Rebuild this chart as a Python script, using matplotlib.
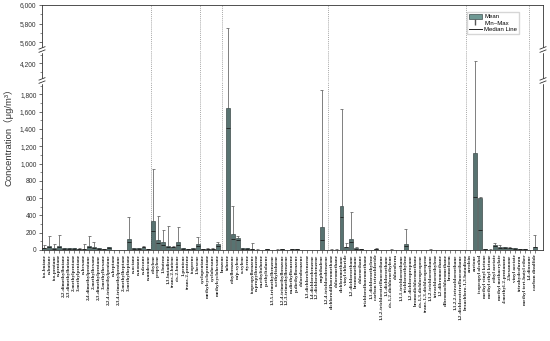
import matplotlib

matplotlib.use("Agg")

import matplotlib.pyplot as plt
from matplotlib.lines import Line2D
from matplotlib.patches import Patch, Rectangle

compounds = [
    # alkanes
    "iso-butane", "n-butane", "iso-pentane", "n-pentane", "2,2-dimethylbutane",
    "2,3-dimethylbutane", "2-methylpentane", "3-methylpentane", "n-hexane",
    "2,4-dimethylpentane", "2-methylhexane", "2,3-dimethylpentane", "3-methylhexane",
    "2,2,4-trimethylpentane", "n-heptane", "2,3,4-trimethylpentane", "2-methylheptane",
    "3-methylheptane", "n-octane", "n-nonane", "n-decane", "n-undecane",
    # alkenes
    "ethylene", "propylene", "1-butene", "1,3-butadiene", "trans-2-butene",
    "cis-2-butene", "1-pentene", "trans-2-pentene", "isoprene", "1-hexene",
    # cycloalkanes
    "cyclopentane", "methylcyclopentane", "cyclohexane", "methylcyclohexane",
    # aromatics
    "benzene", "toluene", "ethylbenzene", "m/p-xylene", "o-xylene", "styrene",
    "isopropylbenzene", "n-propylbenzene", "m-ethyltoluene", "p-ethyltoluene",
    "1,3,5-trimethylbenzene", "o-ethyltoluene", "1,2,4-trimethylbenzene",
    "1,2,3-trimethylbenzene", "m-diethylbenzene", "p-diethylbenzene", "chlorobenzene",
    "1,3-dichlorobenzene", "1,4-dichlorobenzene", "1,2-dichlorobenzene", "naphthalene",
    "1,2,4-trichlorobenzene",
    # halocarbons
    "dichlorodifluoromethane", "chloromethane", "dichloromethane", "vinyl chloride",
    "1,2-dichloroethane", "bromomethane", "chloroethane", "trichlorofluoromethane",
    "1,1-dichloroethylene", "carbon tetrachloride", "1,1,2-trichlorotrifluoroethane",
    "1,1-dichloroethane", "cis-1,2-dichloroethylene", "chloroform", "1,1,1-trichloroethane",
    "trichloroethylene", "1,2-dichloropropane", "bromodichloromethane",
    "cis-1,3-dichloropropene", "trans-1,3-dichloropropene", "1,1,2-trichloroethane",
    "tetrachloroethylene", "1,2-dibromoethane", "dibromochloromethane", "bromoform",
    "1,1,2,2-tetrachloroethane", "1,2-dichlorotetrafluoroethane", "hexachloro-1,3-butadiene",
    # OVOCs
    "acrolein", "acetone", "isopropyl alcohol", "methyl vinyl ketone", "methyl ethyl ketone",
    "ethyl acetate", "methyl methacrylate", "4-methyl-2-pentanone", "2-hexanone",
    "vinyl acetate", "tetrahydrofuran", "methyl tert-butyl ether", "1,4-dioxane",
    # other
    "carbon disulfide",
]

mean_conc = [
    25, 45, 20, 50, 20, 18, 18, 15, 15, 45, 30, 18, 12, 35, 2, 2, 2, 124, 20, 20, 40, 12,
    335, 116, 89, 50, 38, 89, 20, 10, 20, 66,
    8, 15, 15, 66,
    3, 1640, 185, 135, 20, 20, 10, 5, 3, 8, 4, 5, 10, 3, 8, 8, 3, 2, 4, 3, 270, 3,
    5, 5, 509, 40, 127, 20, 8, 3, 3, 15, 2, 2, 5, 2, 2, 66, 2, 2, 2, 2, 5, 2, 2, 2, 2, 2, 2, 2,
    3, 1125, 598, 10, 5, 55, 35, 30, 25, 20, 8, 10, 2,
    40,
]

max_conc = [
    55, 160, 65, 170, 25, 22, 22, 20, 65, 165, 88, 22, 15, 40, 3, 3, 3, 378, 25, 25, 52, 15,
    936, 397, 231, 277, 42, 270, 25, 12, 24, 154,
    10, 18, 18, 96,
    4, 5750, 509, 162, 25, 25, 77, 6, 4, 10, 5, 6, 15, 4, 10, 10, 4, 3, 5, 4, 1850, 4,
    6, 6, 1630, 80, 440, 40, 10, 4, 4, 25, 3, 3, 6, 3, 3, 243, 3, 3, 3, 3, 6, 3, 3, 3, 3, 3, 3, 3,
    4, 4230, 610, 12, 6, 85, 60, 40, 30, 25, 10, 12, 3,
    170,
]

median_conc = [
    20, 30, 15, 35, 15, 14, 14, 12, 10, 30, 22, 14, 9, 28, 1, 1, 1, 90, 15, 15, 32, 9,
    220, 80, 60, 30, 30, 60, 15, 8, 15, 45,
    6, 12, 12, 50,
    2, 1410, 130, 120, 15, 15, 6, 4, 2, 6, 3, 4, 8, 2, 6, 6, 2, 1, 3, 2, 116, 2,
    4, 4, 380, 30, 90, 15, 6, 2, 2, 12, 1, 1, 4, 1, 1, 45, 1, 1, 1, 1, 4, 1, 1, 1, 1, 1, 1, 1,
    2, 616, 231, 8, 4, 45, 28, 25, 20, 15, 6, 8, 1,
    30,
]

group_edges = [21.5, 31.4, 35.9, 57.3, 85.1, 97.9]

# broken y axis: (ylim, pixel top, pixel bottom, major ticks, minor ticks)
segments = [
    ((5520, 6000), 5, 49.5, [5600, 5800, 6000], [5700, 5900]),
    ((4000, 4360), 49.5, 80.5, [4200], [4100, 4300]),
    ((0, 1960), 80.5, 250, list(range(0, 1801, 200)), list(range(100, 1901, 200))),
]

W, H = 550, 341
LEFT, RIGHT = 42, 543
BAR_COLOR = "#587371"
EDGE_COLOR = "#233030"

fig = plt.figure(figsize=(W / 100, H / 100), dpi=100)
x = list(range(len(compounds)))
axes = []
for i, (ylim, top_px, bot_px, major, minor) in enumerate(segments):
    ax = fig.add_axes([LEFT / W, 1 - bot_px / H, (RIGHT - LEFT) / W, (bot_px - top_px) / H])
    ax.vlines(x, mean_conc, max_conc, color="#6a6a6a", lw=0.6, zorder=1)
    ax.hlines(max_conc, [v - 0.3 for v in x], [v + 0.3 for v in x], color="#6a6a6a", lw=0.6, zorder=1)
    ax.bar(x, mean_conc, width=0.8, color=BAR_COLOR, edgecolor=EDGE_COLOR, linewidth=0.4, zorder=2)
    ax.hlines(median_conc, [v - 0.4 for v in x], [v + 0.4 for v in x], color="#1e1e1e", lw=0.6, zorder=3)
    for edge in group_edges:
        ax.axvline(edge, color="#8a8a8a", lw=0.5, ls=(0, (1.5, 1.5)), zorder=0)
    ax.set_xlim(-0.5, 100.7)
    ax.set_ylim(*ylim)
    ax.set_yticks(major)
    ax.set_yticks(minor, minor=True)
    ax.set_yticklabels([f"{v:,}" for v in major], fontsize=4.8, color="#333333", family="Liberation Sans")
    ax.tick_params(axis="y", which="major", length=2.5, width=0.5, pad=1.5, colors="#333333")
    ax.tick_params(axis="y", which="minor", length=1.5, width=0.4, colors="#333333")
    for side in ("left", "right", "top", "bottom"):
        ax.spines[side].set_linewidth(0.6)
        ax.spines[side].set_color("#333333")
    if i > 0:
        ax.spines["top"].set_visible(False)
    if i < len(segments) - 1:
        ax.spines["bottom"].set_visible(False)
        ax.set_xticks([])
    axes.append(ax)

ax = axes[-1]
ax.set_xticks(x)
ax.set_xticklabels(compounds, rotation=90, fontsize=3.7, fontweight="bold", family="Liberation Serif")
ax.tick_params(axis="x", length=2, width=0.4, pad=1, colors="#222222")

# break marks on both sides of the y axis
for bx in (LEFT, RIGHT):
    for by in (segments[0][2], segments[1][2]):
        fig.add_artist(Rectangle(((bx - 2) / W, 1 - (by + 2) / H), 4 / W, 4 / H,
                                 transform=fig.transFigure, color="white", zorder=5))
        for dy in (-1.6, 1.6):
            fig.add_artist(Line2D([(bx - 3) / W, (bx + 3) / W],
                                  [1 - (by + dy + 1.2) / H, 1 - (by + dy - 1.2) / H],
                                  transform=fig.transFigure, color="#333333", lw=0.6, zorder=6))

fig.text(8 / W, 1 - 135 / H, "Concentration（μg/m³）", rotation=90, ha="center", va="center",
         fontsize=6.8, color="#333333", family=["Liberation Sans", "Noto Sans CJK SC"])

handles = [
    Patch(facecolor="#6f9994", edgecolor=EDGE_COLOR, linewidth=0.4),
    Line2D([], [], color="#555555", marker="|", markersize=5, linestyle="None"),
    Line2D([], [], color="#222222", lw=0.7),
]
fig.legend(handles, ["Mean", "Min~Max", "Median Line"], loc="upper right",
           bbox_to_anchor=(522 / W, 1 - 9 / H), frameon=True, fancybox=False,
           edgecolor="#cccccc", handlelength=2.2, handleheight=0.9, borderpad=0.3,
           labelspacing=0.15, handletextpad=0.4, prop={"family": "Liberation Sans", "size": 4.3})

fig.savefig("out.png", dpi=100)
